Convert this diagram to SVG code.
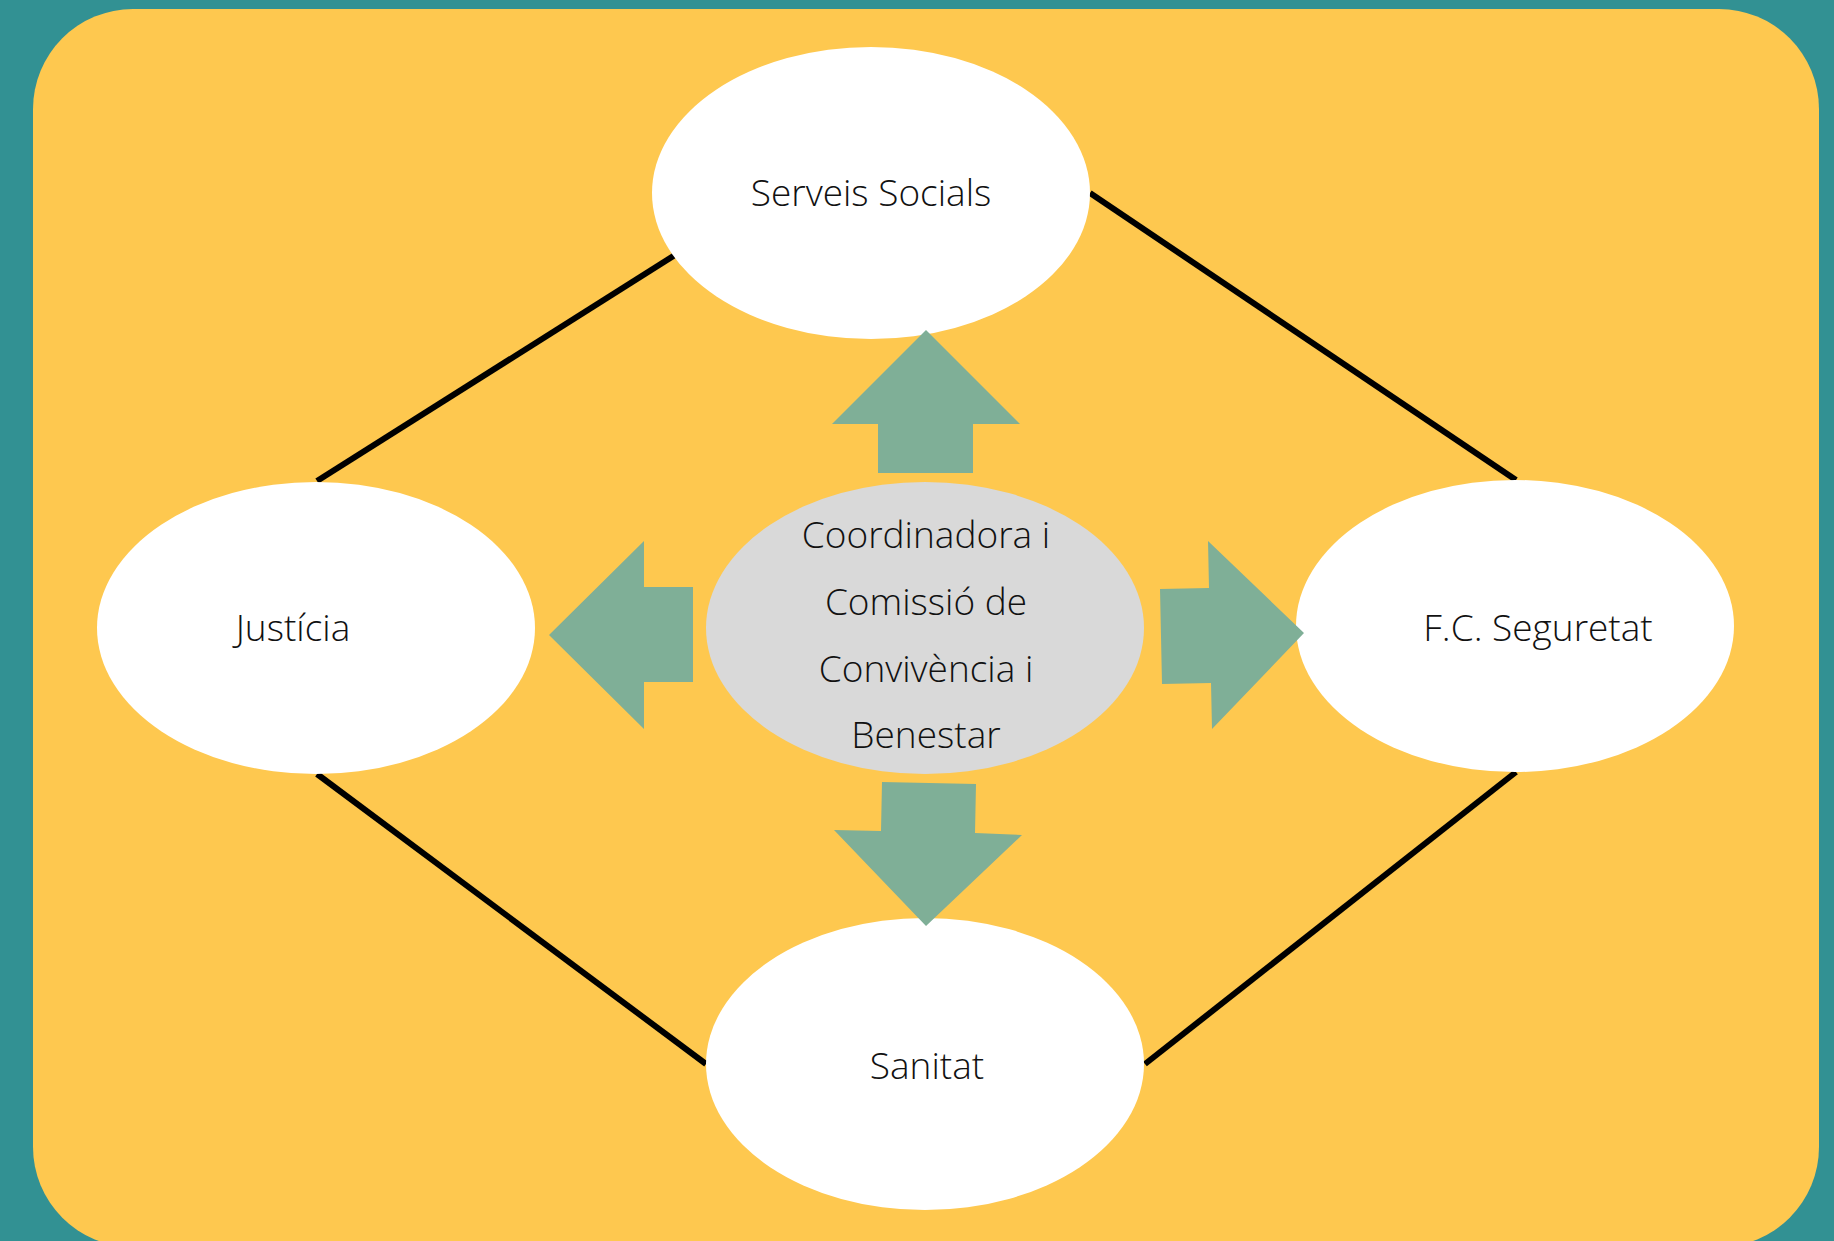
<svg xmlns="http://www.w3.org/2000/svg" width="1834" height="1241" viewBox="0 0 1834 1241">
<style>
.node{fill:#ffffff}
.center{fill:#d9d9d9}
.lbl{font-family:"Open Sans","Noto Sans","Liberation Sans",sans-serif;font-weight:300;font-size:37px;fill:#111111;text-anchor:middle}
.conn{stroke:#000000;stroke-width:6;fill:none}
.arr{fill:#7faf97}
</style>
<rect x="0" y="0" width="1834" height="1241" fill="#329193"/>
<rect x="33" y="9" width="1786" height="1238" rx="100" ry="100" fill="#fec84f"/>
<g id="connectors">
<line class="conn" x1="675" y1="255" x2="317" y2="481"/>
<line class="conn" x1="1090" y1="193" x2="1516" y2="480"/>
<line class="conn" x1="317" y1="774" x2="706" y2="1064"/>
<line class="conn" x1="1516" y1="772" x2="1145" y2="1064"/>
</g>
<g id="serveis-socials">
<ellipse class="node" cx="871" cy="193" rx="219" ry="146"/>
<text class="lbl" x="871" y="206">Serveis Socials</text>
</g>
<g id="justicia">
<ellipse class="node" cx="316" cy="628" rx="219" ry="146"/>
<text class="lbl" x="293" y="641">Justícia</text>
</g>
<g id="coordinadora">
<ellipse class="center" cx="925" cy="628" rx="219" ry="146"/>
<text class="lbl" x="926" y="548">Coordinadora i</text>
<text class="lbl" x="926" y="615">Comissió de</text>
<text class="lbl" x="926" y="682">Convivència i</text>
<text class="lbl" x="926" y="748">Benestar</text>
</g>
<g id="fc-seguretat">
<ellipse class="node" cx="1515" cy="626" rx="219" ry="146"/>
<text class="lbl" x="1538" y="641">F.C. Seguretat</text>
</g>
<g id="sanitat">
<ellipse class="node" cx="925" cy="1064" rx="219" ry="146"/>
<text class="lbl" x="927" y="1079">Sanitat</text>
</g>
<g id="arrows">
<polygon class="arr" points="926,330 1020,424 973,424 973,473 878,473 878,424 832,424"/>
<polygon class="arr" points="549,635 644,541 644,587 693,587 693,682 644,682 644,729"/>
<polygon class="arr" points="1304,633 1212,729 1211,683 1162,684 1160,589 1209,588 1208,541"/>
<polygon class="arr" points="926,926 1022,835 975,833 976,784 882,782 881,831 834,830"/>
</g>
</svg>
